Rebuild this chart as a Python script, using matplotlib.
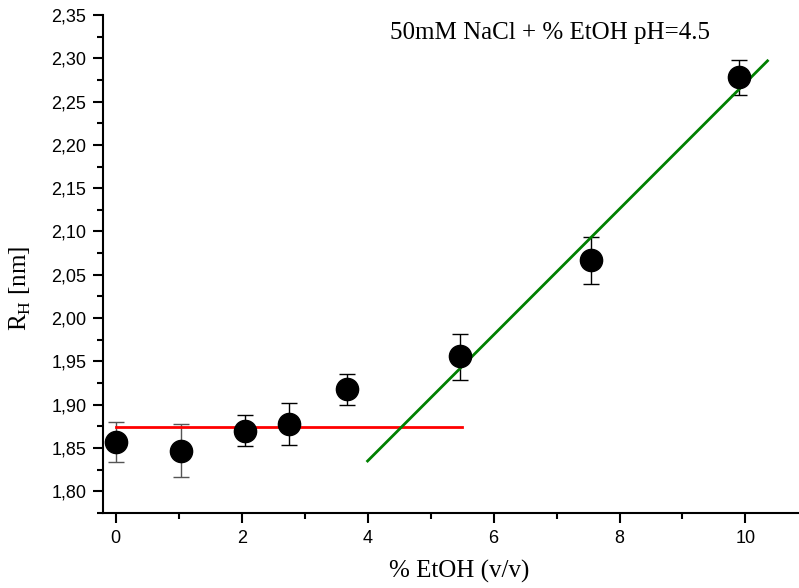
import numpy as np
import matplotlib
matplotlib.use("Agg")
import matplotlib.pyplot as plt
from matplotlib.ticker import FuncFormatter, MultipleLocator

# measured points
etoh = [0.0, 1.03, 2.05, 2.75, 3.68, 5.47, 7.55, 9.9]
rh = [1.857, 1.847, 1.870, 1.878, 1.918, 1.956, 2.067, 2.278]
rh_lo = [1.834, 1.816, 1.852, 1.853, 1.900, 1.929, 2.039, 2.258]
rh_hi = [1.880, 1.878, 1.888, 1.902, 1.936, 1.982, 2.094, 2.298]
err_colors = ['#555555', '#555555', 'black', 'black', 'black', 'black', 'black', 'black']

# fitted lines
flat_x = [0.0, 5.5]
flat_y = [1.874, 1.874]
slope_x = [4.0, 10.35]
slope_y = [1.835, 2.297]

fig = plt.figure(figsize=(7.99, 5.88), dpi=100)
ax = fig.add_axes([0.129, 0.1276, 0.871, 0.847])

x = np.array(etoh)
y = np.array(rh)
yerr = np.array([y - np.array(rh_lo), np.array(rh_hi) - y])

for i in range(len(x)):
    ax.errorbar(x[i], y[i], yerr=yerr[:, i:i+1], fmt='none', ecolor=err_colors[i],
                elinewidth=1, capsize=6, capthick=1, zorder=2)
ax.plot(flat_x, flat_y, color='red', lw=2, zorder=3)
ax.plot(slope_x, slope_y, color='green', lw=2, zorder=3)
ax.plot(x, y, 'o', color='black', markersize=16, zorder=4)

ax.set_xlim(-0.2, 10.85)
ax.set_ylim(1.775, 2.35)
ax.xaxis.set_major_locator(MultipleLocator(2))
ax.xaxis.set_minor_locator(MultipleLocator(1))
ax.yaxis.set_major_locator(MultipleLocator(0.05))
ax.yaxis.set_minor_locator(MultipleLocator(0.025))
ax.yaxis.set_major_formatter(FuncFormatter(lambda v, p: f"{v:.2f}".replace('.', ',')))

for s in ['top', 'right']:
    ax.spines[s].set_visible(False)
for s in ['left', 'bottom']:
    ax.spines[s].set_linewidth(1.5)
ax.tick_params(which='major', direction='out', length=7, width=1.5, labelsize=13, pad=5)
ax.tick_params(which='minor', direction='out', length=4, width=1.5)
for lab in ax.get_xticklabels() + ax.get_yticklabels():
    lab.set_family('Liberation Sans')

ax.set_xlabel('% EtOH (v/v)', family='Liberation Serif', fontsize=18)
ax.xaxis.set_label_coords(0.512, -0.095)
ax.set_ylabel(r'R$_\mathregular{H}$ [nm]', family='Liberation Serif', fontsize=18)
ax.yaxis.set_label_coords(-0.10, 0.45)
ax.text(0.642, 0.964, '50mM NaCl + % EtOH pH=4.5', transform=ax.transAxes,
        family='Liberation Serif', fontsize=18, ha='center', va='center')

fig.savefig('out.png', dpi=100)
